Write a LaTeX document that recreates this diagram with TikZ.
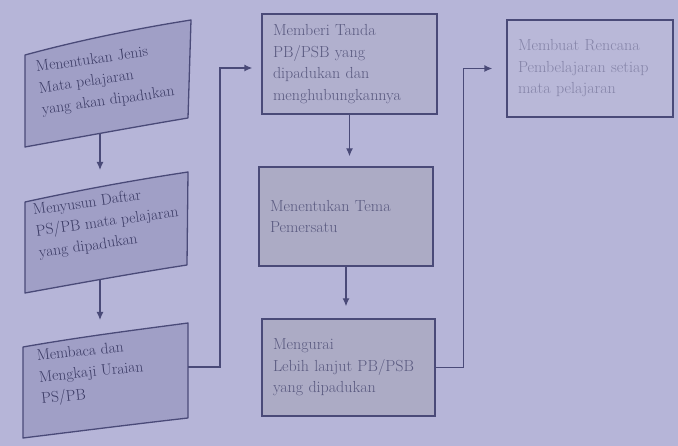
\documentclass[tikz,border=0pt]{standalone}
\usetikzlibrary{arrows.meta}
\definecolor{paper}{HTML}{B6B5D8}
\definecolor{ink}{HTML}{4A4A78}
\definecolor{darkfill}{HTML}{A09FC6}
\definecolor{midfill}{HTML}{B1B0CE}
\definecolor{grayfill}{HTML}{ACABC5}
\definecolor{lightfill}{HTML}{B9B8D8}
\definecolor{darktext}{HTML}{3A3A64}
\definecolor{midtext}{HTML}{5A5A80}
\definecolor{lighttext}{HTML}{8584A8}
\tikzset{
  slantbox/.style={draw=ink, line width=1.3pt, line join=round, fill=darkfill},
  flowbox/.style={draw=ink, line width=1.3pt, rectangle, align=left,
    inner xsep=11pt, inner ysep=0pt, font=\fontsize{16}{21.5}\selectfont},
  slanttext/.style={align=left, inner sep=0pt, anchor=north west,
    text=darktext, font=\fontsize{15.5}{21.5}\selectfont},
  link/.style={draw=ink, line width=1.3pt},
  arr/.style={link, -{Latex[length=8pt,width=7pt]}},
}
\begin{document}
\begin{tikzpicture}[x=1pt,y=-1pt]
\path[use as bounding box, fill=paper] (0,0) rectangle (678,446);

% left column: slanted steps
\draw[slantbox] (25,55) .. controls (80,40) and (140,28) .. (191,20)
  -- (188,118) .. controls (140,126) and (80,137) .. (25,147) -- cycle;
\draw[slantbox] (25,202) .. controls (80,190) and (135,180) .. (188,172)
  -- (187,265) .. controls (135,273) and (80,283) .. (25,293) -- cycle;
\draw[slantbox] (23,347) .. controls (80,337) and (135,330) .. (188,323)
  -- (188,418) .. controls (135,424) and (80,431) .. (23,438) -- cycle;

\node[slanttext, rotate=8] (t1) at (35,61)
  {Menentukan Jenis\\ Mata pelajaran\\ yang akan dipadukan};
\node[slanttext, rotate=8] (t2) at (32,204)
  {Menyusun Daftar\\ PS/PB mata pelajaran\\ yang dipadukan};
\node[slanttext, rotate=6] (t3) at (36,350)
  {Membaca dan\\ Mengkaji Uraian\\ PS/PB};

\coordinate (s1b) at (100,133.7);
\coordinate (s2t) at (100,188);
\coordinate (s2b) at (100,280);
\coordinate (s3t) at (100,336);
\coordinate (s3r) at (188,367);

% middle and right columns
\node[flowbox, fill=midfill, text=midtext, minimum width=175pt,
  minimum height=100pt, text width=153pt] (b4) at (349.5,64)
  {Memberi Tanda\\ PB/PSB yang\\ dipadukan dan\\ menghubungkannya};
\node[flowbox, fill=grayfill, text=midtext, minimum width=174pt,
  minimum height=99pt, text width=152pt] (b5) at (346,216.5)
  {Menentukan Tema\\ Pemersatu};
\node[flowbox, fill=grayfill, text=midtext, minimum width=173pt,
  minimum height=97pt, text width=151pt] (b6) at (348.5,367.5)
  {Mengurai\\ Lebih lanjut PB/PSB\\ yang dipadukan};
\node[flowbox, fill=lightfill, text=lighttext, minimum width=166pt,
  minimum height=97pt, text width=144pt] (b7) at (590,68.5)
  {Membuat Rencana\\ Pembelajaran setiap\\ mata pelajaran};

% connectors
\draw[arr, shorten >=18pt] (s1b) -- (s2t);
\draw[arr, shorten >=16pt] (s2b) -- (s3t);
\draw[arr] (s3r) -- ++(32,0) |- ([shift={(-9,4)}]b4.west);
\draw[arr, shorten >=10pt] (b4.south) -- (b4.south |- b5.north);
\draw[arr, shorten >=12pt] (b5.south) -- (b5.south |- b6.north);
\draw[arr] (b6.east) -- ++(28,0) |- ([xshift=-14pt]b7.west);
\end{tikzpicture}
\end{document}
